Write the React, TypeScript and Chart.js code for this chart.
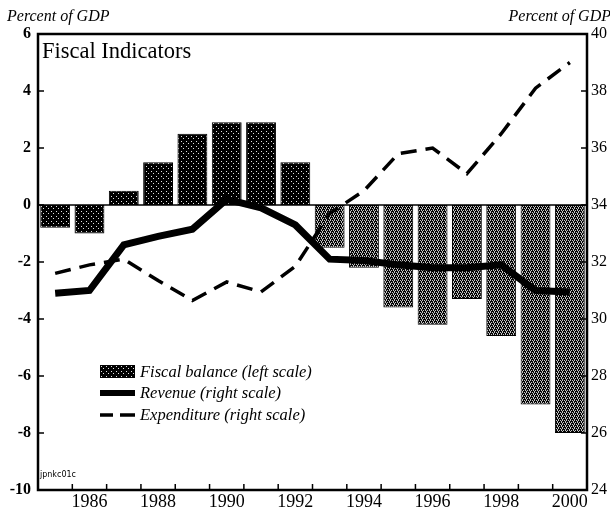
import React, { useEffect, useRef } from 'react';
import { Chart, registerables } from 'chart.js';

Chart.register(...registerables);

const years = ['1985', '1986', '1987', '1988', '1989', '1990', '1991', '1992', '1993', '1994', '1995', '1996', '1997', '1998', '1999', '2000'];
const fiscalBalance = [-0.8, -1.0, 0.5, 1.5, 2.5, 2.9, 2.9, 1.5, -1.5, -2.2, -3.6, -4.2, -3.3, -4.6, -7.0, -8.0];
const revenue = [30.9, 31.0, 32.6, 32.9, 33.15, 34.2, 33.9, 33.3, 32.1, 32.05, 31.9, 31.8, 31.8, 31.9, 31.0, 30.95];
const expenditure = [31.6, 31.9, 32.1, 31.35, 30.65, 31.3, 30.95, 31.85, 33.7, 34.5, 35.8, 36.0, 35.1, 36.5, 38.1, 39.0];

const TITLE = 'Fiscal Indicators';
const AXIS_TITLE = 'Percent of GDP';
const SOURCE_CODE = 'jpnkc01c';
const SERIF = '"Liberation Serif", "DejaVu Serif", serif';

function makePattern(size: number, bg: string, fg: string, dots: number[][]) {
  const c = document.createElement('canvas');
  c.width = size;
  c.height = size;
  const g = c.getContext('2d')!;
  g.fillStyle = bg;
  g.fillRect(0, 0, size, size);
  g.fillStyle = fg;
  dots.forEach(([x, y]) => g.fillRect(x, y, 1, 1));
  return g.createPattern(c, 'repeat')!;
}

export default function App() {
  const ref = useRef<HTMLCanvasElement>(null);

  useEffect(() => {
    document.body.style.margin = '0';
    const canvas = ref.current!;
    const darkPat = makePattern(5, '#000000', '#e0e0e0', [[1, 1], [3, 3]]);
    const grayPat = makePattern(4, '#050505', '#c4c4c4', [[0, 0], [2, 0], [1, 1], [1, 2], [3, 2], [2, 3]]);

    const decor = {
      id: 'decor',
      beforeDatasetsDraw(chart: any) {
        const { ctx, chartArea: a, scales } = chart;
        const y0 = scales.y.getPixelForValue(0);
        ctx.save();
        ctx.strokeStyle = '#000';
        ctx.lineWidth = 1.5;
        ctx.beginPath();
        ctx.moveTo(a.left, y0);
        ctx.lineTo(a.right, y0);
        ctx.stroke();
        ctx.restore();
      },
      afterDraw(chart: any) {
        const { ctx, chartArea: a, scales } = chart;
        ctx.save();
        ctx.strokeStyle = '#000';
        ctx.fillStyle = '#000';
        // frame
        ctx.lineWidth = 2.5;
        ctx.strokeRect(a.left, a.top, a.right - a.left, a.bottom - a.top);
        // inward ticks
        ctx.lineWidth = 1.5;
        ctx.beginPath();
        scales.y.ticks.forEach((t: any) => {
          const y = scales.y.getPixelForValue(t.value);
          ctx.moveTo(a.left, y);
          ctx.lineTo(a.left + 6, y);
        });
        scales.y1.ticks.forEach((t: any) => {
          const y = scales.y1.getPixelForValue(t.value);
          ctx.moveTo(a.right - 6, y);
          ctx.lineTo(a.right, y);
        });
        for (let i = 1; i < years.length; i++) {
          const x = (scales.x.getPixelForValue(i - 1) + scales.x.getPixelForValue(i)) / 2;
          ctx.moveTo(x, a.bottom);
          ctx.lineTo(x, a.bottom - 6);
        }
        ctx.stroke();

        // texts
        ctx.textBaseline = 'alphabetic';
        ctx.font = `22.5px ${SERIF}`;
        ctx.textAlign = 'left';
        ctx.fillText(TITLE, a.left + 4, a.top + 24);

        ctx.font = `italic 16px ${SERIF}`;
        ctx.fillText(AXIS_TITLE, 7, 21);
        ctx.textAlign = 'right';
        ctx.fillText(AXIS_TITLE, 611, 21);

        ctx.textAlign = 'left';
        ctx.font = `8px "DejaVu Sans", sans-serif`;
        ctx.fillText(SOURCE_CODE, a.left + 2, a.bottom - 13);

        // legend
        const ds = chart.data.datasets;
        const lx = a.left + 62;
        const rows = [372, 393, 415];
        ctx.font = `italic 16.5px ${SERIF}`;
        ctx.fillStyle = darkPat;
        ctx.fillRect(lx, rows[0] - 7, 35, 13);
        ctx.fillStyle = '#000';
        ctx.lineWidth = 6;
        ctx.beginPath();
        ctx.moveTo(lx, rows[1]);
        ctx.lineTo(lx + 35, rows[1]);
        ctx.stroke();
        ctx.lineWidth = 3.5;
        ctx.beginPath();
        ctx.moveTo(lx, rows[2]);
        ctx.lineTo(lx + 13, rows[2]);
        ctx.moveTo(lx + 20, rows[2]);
        ctx.lineTo(lx + 35, rows[2]);
        ctx.stroke();
        ds.forEach((d: any, i: number) => {
          ctx.fillText(d.label, lx + 40, rows[i] + 5);
        });
        ctx.restore();
      },
    };

    const chart = new Chart(canvas, {
      type: 'bar',
      data: {
        labels: years,
        datasets: [
          {
            type: 'bar',
            label: 'Fiscal balance (left scale)',
            data: fiscalBalance,
            yAxisID: 'y',
            backgroundColor: (c: any) => (c.dataIndex < 8 ? darkPat : grayPat),
            borderColor: '#000',
            borderWidth: 1,
            borderSkipped: false,
            barPercentage: 0.87,
            categoryPercentage: 1,
            order: 3,
          },
          {
            type: 'line',
            label: 'Revenue (right scale)',
            data: revenue,
            yAxisID: 'y1',
            borderColor: '#000',
            borderWidth: 7,
            pointRadius: 0,
            tension: 0,
            borderJoinStyle: 'miter',
            order: 1,
          },
          {
            type: 'line',
            label: 'Expenditure (right scale)',
            data: expenditure,
            yAxisID: 'y1',
            borderColor: '#000',
            borderWidth: 3.5,
            borderDash: [16, 9],
            pointRadius: 0,
            tension: 0,
            order: 2,
          },
        ] as any,
      },
      options: {
        responsive: false,
        animation: false,
        devicePixelRatio: 1,
        layout: { padding: { top: 34, left: 0, right: 0, bottom: 0 } },
        plugins: {
          legend: { display: false },
          tooltip: { enabled: false },
          title: { display: false },
        },
        scales: {
          x: {
            type: 'category',
            offset: true,
            grid: { display: false, drawTicks: false },
            border: { display: false },
            ticks: {
              autoSkip: false,
              maxRotation: 0,
              padding: 1,
              color: '#000',
              font: { family: SERIF, size: 18 },
              callback: (v: any, i: number) => (Number(years[i]) % 2 === 0 ? years[i] : ''),
            },
            afterFit: (s: any) => {
              s.height = 18;
            },
          },
          y: {
            position: 'left',
            min: -10,
            max: 6,
            grid: { display: false, drawTicks: false },
            border: { display: false },
            ticks: {
              stepSize: 2,
              padding: 7,
              color: '#000',
              font: { family: SERIF, size: 16, weight: 'bold' },
            },
            afterFit: (s: any) => {
              s.width = 38;
            },
          },
          y1: {
            position: 'right',
            min: 24,
            max: 40,
            grid: { display: false, drawTicks: false },
            border: { display: false },
            ticks: {
              stepSize: 2,
              padding: 4,
              color: '#000',
              font: { family: SERIF, size: 16 },
            },
            afterFit: (s: any) => {
              s.width = 23;
            },
          },
        },
      } as any,
      plugins: [decor],
    });

    return () => chart.destroy();
  }, []);

  return (
    <div style={{ width: 610, height: 508 }}>
      <canvas ref={ref} width={610} height={508} style={{ display: 'block' }} />
    </div>
  );
}
